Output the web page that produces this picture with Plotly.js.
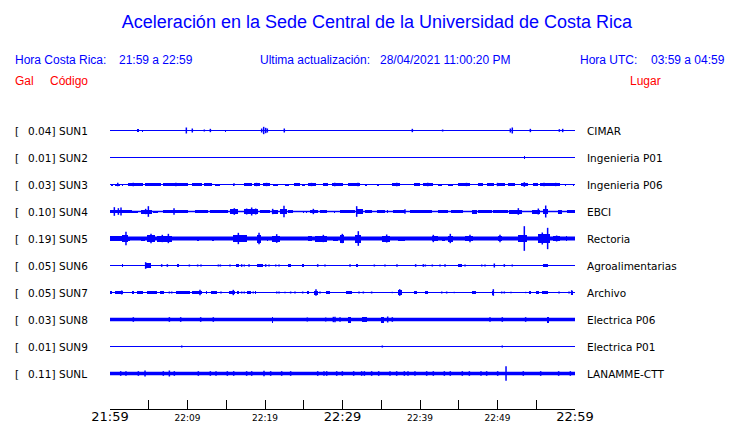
<!DOCTYPE html>
<html><head><meta charset="utf-8">
<script src="https://cdn.plot.ly/plotly-3.0.1.min.js"></script>
<style>html,body{margin:0;padding:0;background:#fff}#chart{width:740px;height:423px}</style>
</head><body><div id="chart"></div>
<script>
// ---------------- DATA ----------------
const codes  = ['SUN1','SUN2','SUN3','SUN4','SUN5','SUN6','SUN7','SUN8','SUN9','SUNL'];
const places = ['CIMAR','Ingenieria P01','Ingenieria P06','EBCI','Rectoria','Agroalimentarias','Archivo','Electrica P06','Electrica P01','LANAMME-CTT'];
const galMax = ['0.04','0.01','0.03','0.10','0.19','0.05','0.05','0.03','0.01','0.11'];
// background noise level (relative amplitude)
const baseAmp = [1.5,1.5,1.5,2,6,1.5,1.5,5,1.5,5];
// x axis: minutes after 21:59
const tickVals = [0,5,10,15,20,25,30,35,40,45,50,55,60];
const tickText = ['21:59','','22:09','','22:19','','22:29','','22:39','','22:49','','22:59'];
const majorTicks = ['21:59','22:29','22:59'];

// bursts: [start min, end min, relative amplitude]; spikes: [min, relative amplitude]
const sun1Bursts = [[3.45,3.7,4],[4.15,4.3,3],[14.85,15.0,3]];
const sun1Spikes = [[9.85,9],[10.62,6],[12.17,3],[12.95,5],[19.57,6],[19.83,11],[20.09,8],[20.3,6],[22.49,6],[39.01,5],[42.92,3],[51.66,6],[51.91,9],[54.24,5],[57.98,4],[58.41,5]];
const sun2Bursts = [[53.4,53.6,4]];
const sun2Spikes = [];
const sun3Bursts = [[0.13,0.39,3],[0.65,1.3,3],[1.5,1.72,3],[2.37,4.3,3.5],[4.52,6.58,3.5],[6.88,10.11,3.5],[10.54,11.83,3.5],[12.17,13.12,3.5],[13.55,14.19,3],[15.3,15.4,3],[15.85,15.95,3],[17.33,18.28,3.5],[18.62,19.35,3.5],[19.78,20.65,3.5],[21.08,21.72,3],[22.58,23.1,3],[23.78,24.52,3.5],[24.73,25.16,3],[25.59,26.54,3.5],[27.53,28.09,3.5],[28.6,30.11,3.5],[30.67,32.26,3.5],[32.95,33.1,3],[34.41,34.71,3],[36.34,37.38,3.5],[39.27,40.0,3.5],[40.43,41.72,3.5],[42.37,42.8,3],[43.66,44.3,3],[44.95,46.45,3.5],[47.44,48.17,3.5],[48.6,49.59,4],[50.02,50.97,3.5],[51.4,52.26,4],[53.03,53.89,4],[54.62,55.18,3.5],[55.48,58.06,3.5],[58.65,58.78,3],[59.72,59.85,3]];
const sun3Spikes = [[1.0,5],[3.0,5],[8.5,5],[16.0,4],[18.9,5],[20.2,5],[26.0,5],[29.0,5],[32.0,5],[37.0,5],[41.0,5],[46.0,5],[50.0,5],[53.46,7],[56.0,5],[57.5,5]];
const sun4Bursts = [[0.0,2.8,5],[2.8,3.66,3],[4.0,5.38,6],[5.59,6.24,3],[6.88,10.11,5],[10.97,12.69,5],[12.9,15.27,5],[15.48,16.56,7],[17.33,19.14,7],[19.35,20.65,4],[20.86,21.72,6],[21.94,22.8,8],[22.92,23.66,4],[24.09,24.15,3],[24.9,25.0,3],[25.35,25.42,3],[25.81,26.88,5],[27.1,27.96,4],[28.9,29.0,3],[29.68,31.61,5],[31.83,32.69,7],[32.9,33.76,4],[34.41,35.48,4],[35.8,35.9,4],[36.56,38.06,4],[38.71,41.51,4],[42.37,43.66,4],[44.0,45.59,4],[46.67,47.31,6],[47.53,49.25,4],[49.46,51.4,4],[51.48,53.12,6],[54.41,55.48,6],[55.91,56.56,8],[57.76,58.37,6],[58.92,60.0,5]];
const sun4Spikes = [[0.56,13],[1.08,10],[1.42,12],[4.6,8],[4.95,16],[8.26,10],[16.04,10],[17.63,9],[18.28,12],[18.8,9],[20.99,8],[22.45,17],[26.24,8],[31.83,16],[38.06,7],[52.69,10],[55.27,9],[56.22,18]];
const sun5Bursts = [[0.0,1.51,7],[1.5,2.37,10],[2.37,2.6,6],[3.01,3.23,5],[4.0,4.52,6],[4.73,5.81,10],[6.02,7.96,9],[11.18,11.48,6],[13.12,13.46,6],[14.55,14.7,5],[15.91,17.63,10],[18.92,19.48,12],[20.22,20.43,6],[20.86,21.94,9],[22.75,22.85,5],[25.59,26.02,7],[26.45,27.96,9],[28.82,29.46,6],[29.68,30.24,12],[31.61,32.39,12],[35.05,36.13,9],[37.2,38.06,6],[38.65,38.75,6],[41.51,42.37,8],[42.8,43.23,6],[43.66,44.3,9],[45.81,46.88,8],[47.5,47.6,5],[49.45,49.55,5],[50.11,50.54,8],[52.69,53.76,11],[55.27,56.77,13],[57.2,58.06,7],[58.45,58.55,5],[58.9,58.95,7]];
const sun5Spikes = [[2.06,20],[5.29,14],[6.75,11],[7.53,14],[16.56,17],[19.23,17],[21.51,13],[27.53,11],[29.98,14],[32.04,22],[35.7,12],[41.72,11],[43.91,14],[46.45,11],[50.32,11],[53.46,37],[55.78,18],[56.47,32],[57.63,9]];
const sun6Bursts = [[1.5,1.72,4],[4.5,5.3,8],[8.6,8.9,5],[16.22,16.65,4],[18.92,19.78,5],[22.92,23.4,5],[24.73,25.08,4],[31.7,32.04,4],[44.95,45.46,4],[55.91,56.47,4]];
const sun6Spikes = [[4.6,10],[5.16,3],[6.67,4],[7.4,4],[10.24,3],[11.31,3],[11.74,3],[13.98,3],[14.24,3],[15.48,3],[16.99,4],[17.33,3],[17.94,4],[20.09,4],[20.52,3],[21.38,3],[21.81,3],[26.8,4],[27.74,3],[30.97,4],[34.11,3],[35.48,3],[37.03,4],[39.44,4],[40.43,4],[40.69,3],[41.59,3],[42.58,3],[43.23,4],[45.81,3],[47.96,3],[48.39,3],[49.59,6],[50.88,4],[51.91,3]];
const sun7Bursts = [[0.0,0.22,4],[0.65,1.72,4],[2.88,3.14,4],[3.44,4.3,4],[4.73,6.02,4],[6.45,7.01,4],[8.52,10.32,4],[10.62,11.83,4],[12.45,12.5,4],[13.03,13.76,4],[15.35,16.13,5],[16.34,16.65,4],[17.63,18.19,4],[18.75,18.85,4],[25.38,25.68,4],[26.37,26.88,6],[27.83,28.39,5],[30.41,31.18,4],[37.12,37.72,8],[39.27,39.57,4],[40.65,40.99,4],[46.67,47.18,4],[49.33,49.59,6],[54.06,54.32,4],[54.97,55.35,4],[55.7,56.47,4],[59.48,59.78,6]];
const sun7Spikes = [[1.51,6],[7.66,3],[7.96,3],[11.61,8],[14.32,3],[15.91,8],[16.99,3],[17.33,3],[18.49,3],[21.51,3],[21.81,3],[22.58,2],[23.31,3],[23.87,3],[24.86,3],[26.58,10],[27.1,3],[32.13,3],[32.69,3],[33.76,3],[36.43,2],[37.38,10],[42.8,3],[43.44,3],[44.43,2],[49.46,10],[50.54,3],[50.88,3],[51.74,2],[53.63,2],[57.94,3],[59.23,3],[59.57,7]];
const sun8Bursts = [[20.86,21.08,9],[30.75,31.1,9],[32.56,33.12,8],[34.97,35.4,9],[56.34,56.65,9]];
const sun8Spikes = [[3.01,7],[7.66,7],[9.12,7],[11.7,7],[13.33,7],[25.46,6],[27.83,6],[28.82,8],[29.03,8],[29.68,7],[35.83,9],[36.43,7],[49.03,7],[50.62,7],[53.63,7]];
const sun9Bursts = [];
const sun9Spikes = [[9.25,3],[35.14,3],[50.62,3]];
const sunLBursts = [];
const sunLSpikes = [[1.38,7],[2.06,7],[3.66,7],[4.52,9],[6.88,7],[7.66,9],[8.3,7],[11.4,7],[12.95,7],[13.68,7],[15.14,7],[15.96,7],[17.63,7],[18.28,7],[19.87,8],[20.73,7],[22.15,7],[23.31,7],[26.8,7],[27.61,7],[27.96,7],[29.25,7],[29.98,7],[31.44,7],[32.47,7],[32.82,7],[33.76,7],[34.67,7],[36.13,7],[36.99,7],[37.98,7],[38.45,7],[39.35,7],[40.86,7],[41.72,7],[43.14,7],[43.91,7],[45.46,7],[46.37,7],[47.87,7],[48.6,7],[50.02,7],[51.1,22],[53.33,7],[55.57,7],[57.89,7],[59.4,7]];

const allBursts = [sun1Bursts,sun2Bursts,sun3Bursts,sun4Bursts,sun5Bursts,sun6Bursts,sun7Bursts,sun8Bursts,sun9Bursts,sunLBursts];
const allSpikes = [sun1Spikes,sun2Spikes,sun3Spikes,sun4Spikes,sun5Spikes,sun6Spikes,sun7Spikes,sun8Spikes,sun9Spikes,sunLSpikes];

// ---------------- STYLE / LAYOUT ----------------
const BLUE = '#0000ff', RED = '#ff0000';
const AMP_UNIT = 1/81;      // relative amplitude -> row units
const W = 740, H = 423, ML = 110, MR = 165, MT = 110, MB = 14;
const PW = W - ML - MR, PH = H - MT - MB;
const ROW_PX = 27, ROW1_PX = 130.5;
const px2x = p => (p - ML) / PW;
const py2y = p => (H - MB - p) / PH;

const traces = [];
codes.forEach((c, i) => {
  const r = i + 1;
  traces.push({type:'scatter', mode:'lines', x:[0,60], y:[r,r],
    line:{color:BLUE, width: Math.max(1, baseAmp[i]*2/3)}, hoverinfo:'skip'});
  const b = allBursts[i];
  if (b.length) traces.push({type:'bar',
    x: b.map(e => (e[0]+e[1])/2), width: b.map(e => e[1]-e[0]),
    base: b.map(e => r - e[2]*AMP_UNIT), y: b.map(e => 2*e[2]*AMP_UNIT),
    marker:{color:BLUE, line:{width:0}}, hoverinfo:'skip'});
  const s = allSpikes[i];
  if (s.length) {
    const xs = [], ys = [];
    s.forEach(e => { xs.push(e[0], e[0], null); ys.push(r - e[1]*AMP_UNIT, r + e[1]*AMP_UNIT, null); });
    traces.push({type:'scatter', mode:'lines', x:xs, y:ys, connectgaps:false,
      line:{color:BLUE, width:1.5}, hoverinfo:'skip'});
  }
});

const labFont = {family:'DejaVu Sans', size:10.5, color:'#000'};
const ann = [];
const addA = (text, x, y, xanchor, font, yref) => ann.push({text, x, y, xref:'paper', yref: yref || 'y',
  xanchor, yanchor:'middle', showarrow:false, font, borderpad:0, borderwidth:0});
codes.forEach((c, i) => {
  const r = i + 1;
  addA('[', px2x(15), r, 'left', labFont);
  addA(galMax[i] + ']', px2x(54.5), r, 'right', labFont);
  addA(c, px2x(58.5), r, 'left', labFont);
  addA(places[i], px2x(587), r, 'left', labFont);
});
const hFont = {family:'Liberation Sans, Arial', size:12, color:BLUE};
const rFont = {family:'Liberation Sans, Arial', size:12, color:RED};
addA('Hora Costa Rica:', px2x(15), py2y(60), 'left', hFont, 'paper');
addA('21:59 a 22:59', px2x(119), py2y(60), 'left', hFont, 'paper');
addA('Ultima actualización:', px2x(260), py2y(60), 'left', hFont, 'paper');
addA('28/04/2021 11:00:20 PM', px2x(380), py2y(60), 'left', hFont, 'paper');
addA('Hora UTC:', px2x(580), py2y(60), 'left', hFont, 'paper');
addA('03:59 a 04:59', px2x(651), py2y(60), 'left', hFont, 'paper');
addA('Gal', px2x(15), py2y(81), 'left', rFont, 'paper');
addA('Código', px2x(50), py2y(81), 'left', rFont, 'paper');
addA('Lugar', px2x(630), py2y(81), 'left', rFont, 'paper');

const tickLabels = tickText.map(t => (t === '' || majorTicks.includes(t)) ? t : '<span style="font-size:9px">' + t + '</span>');

const layout = {
  width: W, height: H, margin:{l:ML, r:MR, t:MT, b:MB, pad:0},
  paper_bgcolor:'#fff', plot_bgcolor:'#fff', showlegend:false, barmode:'overlay', bargap:0,
  title:{text:'Aceleración en la Sede Central de la Universidad de Costa Rica',
    font:{family:'Liberation Sans, Arial', size:18, color:BLUE},
    x: 377/W, xref:'container', xanchor:'center', y: 1 - 22/H, yref:'container', yanchor:'middle'},
  xaxis:{range:[0,60], autorange:false, tickmode:'array', tickvals:tickVals, ticktext:tickLabels,
    ticks:'inside', ticklen:9, tickwidth:1, tickcolor:'#000', showline:true, linecolor:'#000', linewidth:1,
    ticklabelstandoff:-5,
    showgrid:false, zeroline:false, tickfont:{family:'DejaVu Sans', size:13, color:'#000'}, fixedrange:true, automargin:false},
  yaxis:{range:[1 + (H - MB - ROW1_PX)/ROW_PX, 1 - (ROW1_PX - MT)/ROW_PX], autorange:false, visible:false, showgrid:false, zeroline:false, fixedrange:true},
  annotations: ann
};
Plotly.newPlot('chart', traces, layout, {staticPlot:true, displayModeBar:false});
</script></body></html>
